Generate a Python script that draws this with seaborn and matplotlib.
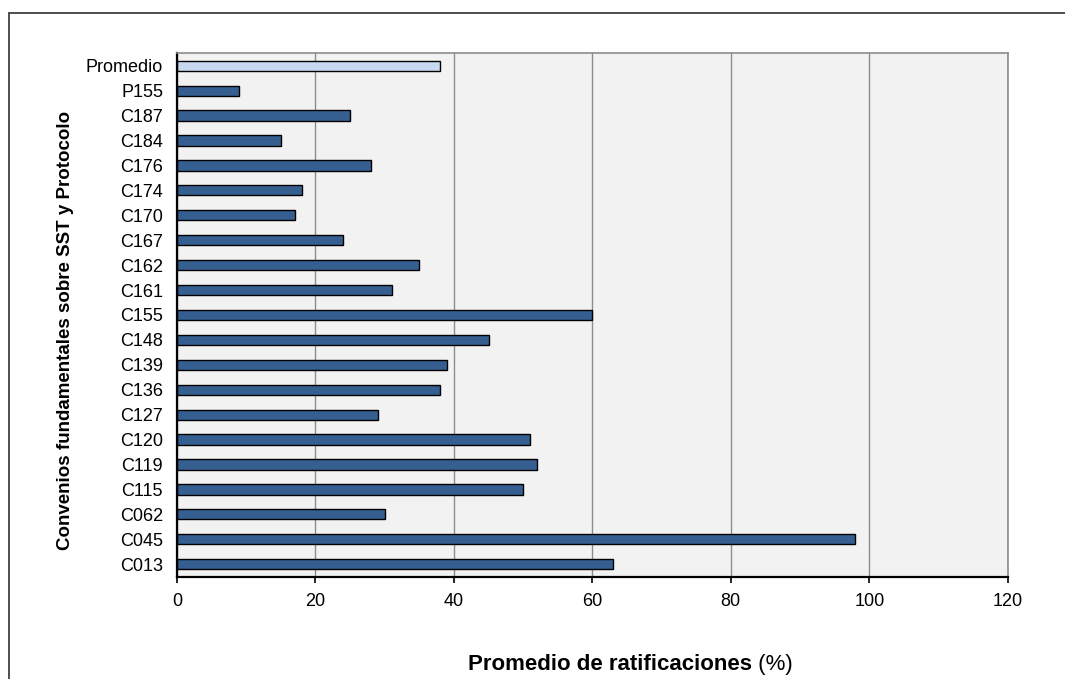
import matplotlib
matplotlib.use("Agg")
import matplotlib.pyplot as plt
from matplotlib.lines import Line2D
import seaborn as sns
import pandas as pd

# Convenios (top to bottom) and their average ratification rate (%)
convenios = ["Promedio", "P155", "C187", "C184", "C176", "C174", "C170", "C167",
             "C162", "C161", "C155", "C148", "C139", "C136", "C127", "C120",
             "C119", "C115", "C062", "C045", "C013"]
ratificaciones = [38, 9, 25, 15, 28, 18, 17, 24, 35, 31, 60, 45, 39, 38, 29, 51,
                  52, 50, 30, 98, 63]
xticks = [0, 20, 40, 60, 80, 100, 120]

sns.set_theme(style="white")
plt.rcParams["font.family"] = ["Liberation Sans", "DejaVu Sans"]

df = pd.DataFrame({"convenio": convenios, "ratificacion": ratificaciones})
palette = ["#C6D9F1"] + ["#355E91"] * (len(convenios) - 1)

fig = plt.figure(figsize=(10.65, 6.79), dpi=100)
ax = fig.add_axes([0.1662, 0.1507, 0.7800, 0.7708])

sns.barplot(data=df, x="ratificacion", y="convenio", hue="convenio",
            palette=palette, legend=False, width=0.41, saturation=1,
            edgecolor="black", linewidth=1.0, ax=ax)

ax.set_xlim(0, 120)
ax.set_xticks(xticks)
ax.set_xticklabels([str(v) for v in xticks])
ax.set_facecolor("#F2F2F2")
ax.set_axisbelow(True)
ax.xaxis.grid(True, color="#8C8C8C", linewidth=1.0)
ax.yaxis.grid(False)
ax.set_xlabel("")
ax.set_ylabel("")

for side in ("left", "bottom"):
    ax.spines[side].set_color("black")
    ax.spines[side].set_linewidth(1.6)
for side in ("top", "right"):
    ax.spines[side].set_color("#8C8C8C")
    ax.spines[side].set_linewidth(1.2)

ax.tick_params(axis="y", length=0, pad=10, labelsize=13, labelcolor="black")
ax.tick_params(axis="x", direction="out", length=4, width=1.2, color="black",
               pad=8, labelsize=13, labelcolor="black", bottom=True)

# Axis titles
t1 = fig.text(468 / 1065, 1 - 670 / 679, "Promedio de ratificaciones",
              fontsize=16, fontweight="bold", ha="left", va="baseline",
              color="black")
ax.annotate(" (%)", xy=(1, 0), xycoords=t1, ha="left", va="bottom",
            fontsize=16, color="black", annotation_clip=False)

fig.text(66 / 1065, 1 - 330 / 679,
         "Convenios fundamentales sobre SST y Protocolo",
         rotation=90, ha="center", va="center", fontsize=13.5,
         fontweight="bold", color="black")

# Outer chart frame (left and top edges)
fig.add_artist(Line2D([9 / 1065, 9 / 1065], [0, 1 - 13 / 679],
                      transform=fig.transFigure, color="#404040", linewidth=1.3))
fig.add_artist(Line2D([9 / 1065, 1], [1 - 13 / 679, 1 - 13 / 679],
                      transform=fig.transFigure, color="#404040", linewidth=1.3))

fig.savefig("out.png", dpi=100)
